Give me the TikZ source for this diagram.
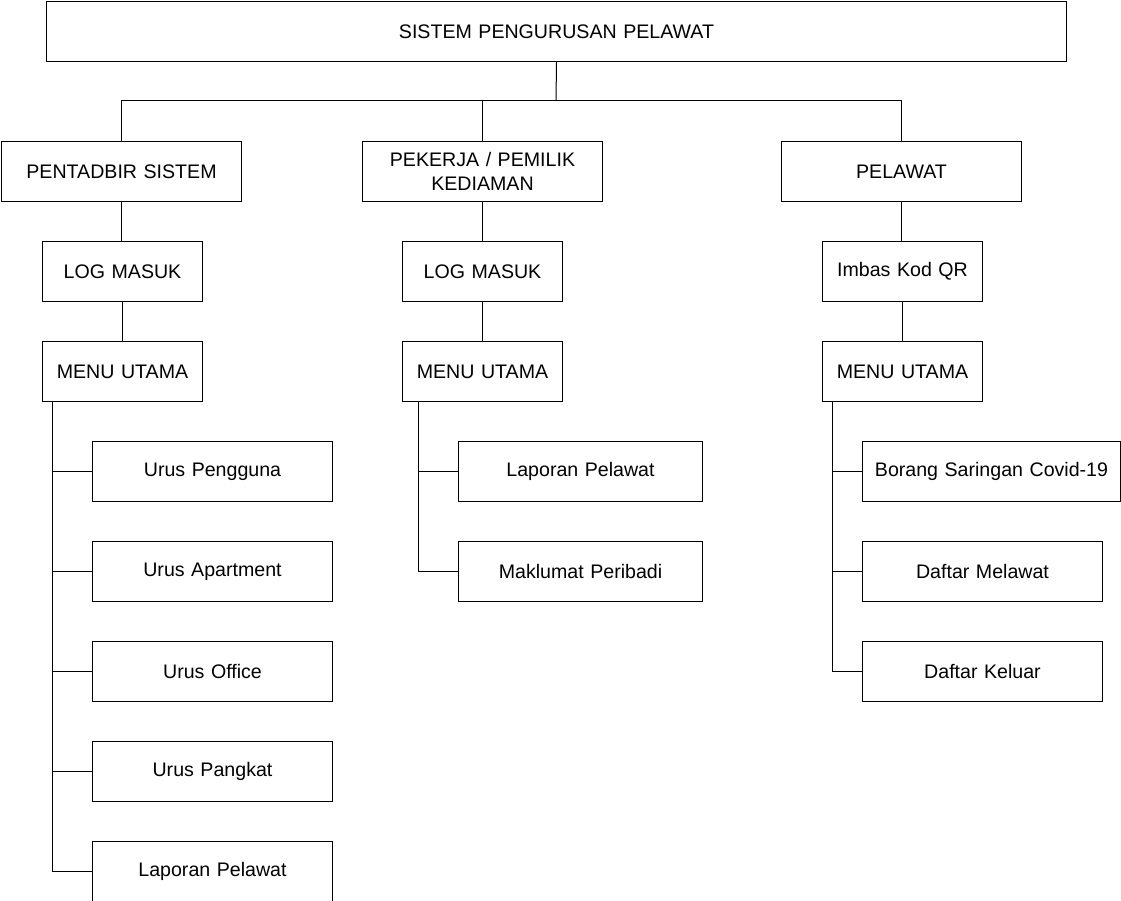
\documentclass[tikz,border=0pt]{standalone}
\usepackage{fontspec}
\setmainfont{Liberation Sans}
\begin{document}
\begin{tikzpicture}[x=1pt,y=-1pt,
  box/.style={draw=black,line width=1pt,fill=white,anchor=north west,inner sep=0pt,align=center,font=\fontsize{19.6}{23.5}\selectfont},
  conn/.style={draw=black,line width=1pt}]
\useasboundingbox (0,0) rectangle (1121,901);
% boxes: name, x1, y1, w, h
\newcommand{\bx}[6]{\node[box,minimum width=#4pt,minimum height=#5pt,text width=#4pt-6pt] (#1) at (#2,#3) {#6};}
\bx{top}{46}{1}{1020}{60}{SISTEM PENGURUSAN PELAWAT}
\bx{adm}{1}{141}{240}{60}{PENTADBIR SISTEM}
\bx{pek}{362}{141}{240}{60}{PEKERJA / PEMILIK\\KEDIAMAN}
\bx{pel}{781}{141}{240}{60}{PELAWAT}
\bx{admlog}{42}{241}{160}{60}{LOG MASUK}
\bx{admmenu}{42}{341}{160}{60}{MENU UTAMA}
\bx{peklog}{402}{241}{160}{60}{LOG MASUK}
\bx{pekmenu}{402}{341}{160}{60}{MENU UTAMA}
\bx{pelqr}{822}{241}{160}{60}{Imbas Kod QR}
\bx{pelmenu}{822}{341}{160}{60}{MENU UTAMA}
\bx{a1}{92}{441}{240}{60}{Urus Pengguna}
\bx{a2}{92}{541}{240}{60}{Urus Apartment}
\bx{a3}{92}{641}{240}{60}{Urus Office}
\bx{a4}{92}{741}{240}{60}{Urus Pangkat}
\bx{a5}{92}{841}{240}{60}{Laporan Pelawat}
\bx{b1}{458}{441}{244}{60}{Laporan Pelawat}
\bx{b2}{458}{541}{244}{60}{Maklumat Peribadi}
\bx{c1}{862}{441}{258}{60}{Borang Saringan Covid-19}
\bx{c2}{862}{541}{240}{60}{Daftar Melawat}
\bx{c3}{862}{641}{240}{60}{Daftar Keluar}
% top tree
\coordinate (bus) at (556,101);
\draw[conn] (top.south) -- (bus);
\draw[conn] (adm.north) |- (pel.north |- bus) -- (pel.north);
\draw[conn] (pek.north) -- (pek.north |- bus);
\draw[conn] (adm.south) -- (admlog.north -| adm.south);
\draw[conn] (admlog.south) -- (admmenu.north);
\draw[conn] (pek.south) -- (peklog.north -| pek.south);
\draw[conn] (peklog.south) -- (pekmenu.north);
\draw[conn] (pel.south) -- (pelqr.north -| pel.south);
\draw[conn] (pelqr.south) -- (pelmenu.north);
% side trees
\coordinate (as) at (52,401);
\draw[conn] (as) |- (a5.west);
\foreach \n in {a1,a2,a3,a4} \draw[conn] (as |- \n.west) -- (\n.west);
\coordinate (bs) at (418,401);
\draw[conn] (bs) |- (b2.west);
\draw[conn] (bs |- b1.west) -- (b1.west);
\coordinate (cs) at (832,401);
\draw[conn] (cs) |- (c3.west);
\foreach \n in {c1,c2} \draw[conn] (cs |- \n.west) -- (\n.west);
\end{tikzpicture}
\end{document}
